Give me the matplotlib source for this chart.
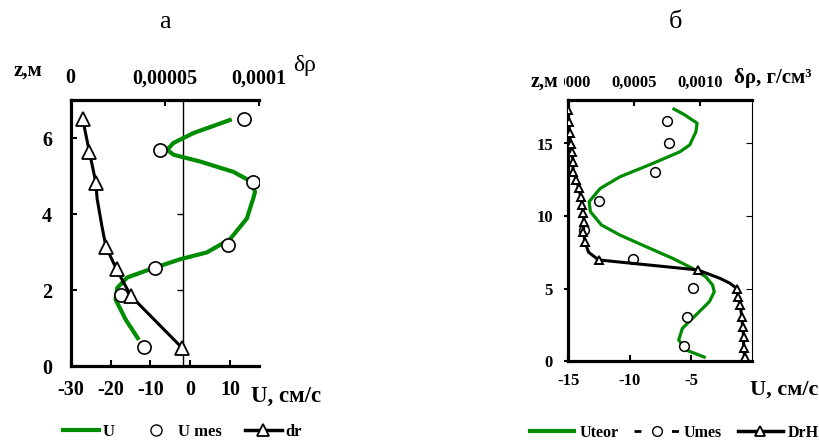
import matplotlib

matplotlib.use("Agg")
import matplotlib.pyplot as plt
from matplotlib.lines import Line2D

plt.rcParams["font.family"] = ["Liberation Serif", "DejaVu Serif"]
plt.rcParams["font.weight"] = "bold"
plt.rcParams["axes.unicode_minus"] = False

W, H = 820, 444
GREEN = "#008c00"

# ---- panel a (z, m) ----
a_u_line = [-12.9, -16.2, -18.75, -18.3, -15.8, -10.0, -2.5, 4.2, 10.0, 14.2, 15.8,
            16.25, 15.4, 10.8, 2.5, -4.2, -5.8, -4.2, 0.8, 10.4]
a_z_line = [0.69, 1.22, 1.75, 2.06, 2.33, 2.55, 2.81, 2.99, 3.34, 3.88, 4.41,
            4.58, 4.85, 5.11, 5.38, 5.56, 5.69, 5.87, 6.13, 6.49]
a_umes = [13.5, -7.7, 15.7, 9.4, -8.75, -17.5, -11.5]
a_zmes = [6.5, 5.69, 4.83, 3.19, 2.59, 1.88, 0.51]
a_dr = [0.0000064, 0.0000099, 0.0000134, 0.000014, 0.0000165, 0.0000187,
        0.0000244, 0.000032, 0.0000593]
a_dr_z = [6.49, 5.64, 4.82, 4.41, 3.7, 3.14, 2.54, 1.84, 0.47]
a_dr_marks = [0, 1, 2, 5, 6, 7, 8]

# ---- panel б ----
b_u_line = [-3.8, -5.4, -6.0, -5.7, -4.6, -3.5, -3.1, -3.24, -3.8, -4.87, -6.5, -8.65,
            -10.8, -12.3, -13.2, -13.3, -12.4, -10.8, -8.1, -5.9, -5.1, -4.6, -4.5,
            -5.5, -6.5]
b_z_line = [0.23, 0.76, 1.45, 2.25, 3.17, 4.09, 4.78, 5.24, 5.81, 6.39, 7.08, 7.88,
            8.69, 9.38, 10.3, 10.99, 11.9, 12.7, 13.63, 14.43, 14.9, 15.8, 16.4,
            16.97, 17.43]
b_umes = [-6.95, -6.8, -7.9, -12.5, -13.7, -9.73, -4.8, -5.3, -5.6]
b_zmes = [16.55, 15.0, 13.0, 11.03, 9.03, 7.03, 5.06, 3.06, 1.06]
b_drh = [0.0, 0.000003, 0.00001, 0.000018, 0.000028, 0.000036, 0.000036, 0.000062,
         0.00008, 0.000095, 0.000105, 0.000112, 0.00012, 0.000115, 0.000128, 0.000154,
         0.000231, 0.000985, 0.001154, 0.00123, 0.001282, 0.00129, 0.001308, 0.00132,
         0.001326, 0.001334, 0.001334, 0.001342]
b_drh_z = [17.3, 16.5, 15.7, 15.0, 14.4, 13.7, 13.05, 12.5, 11.9, 11.3, 10.76, 10.2,
           9.6, 8.9, 8.2, 7.5, 6.97, 6.28, 5.7, 5.36, 5.0, 4.43, 3.86, 3.06, 2.37,
           1.68, 0.88, 0.26]
b_drh_marks = [i for i in range(len(b_drh)) if i not in (15, 18, 19)]


def fx(px):
    return px / W


def fy(py):
    return 1 - py / H


fig = plt.figure(figsize=(W / 100, H / 100), dpi=100)

# ---------------- panel a ----------------
axa = fig.add_axes([fx(70.7), fy(366), (259 - 70.7) / W, (366 - 100) / H])
axa.plot(a_u_line, a_z_line, color=GREEN, lw=3, solid_capstyle="butt",
         solid_joinstyle="round", zorder=2)
axa.plot(a_umes, a_zmes, "o", ms=9.5, mfc="white", mec="black", mew=1.2, zorder=4)
axa.set_xlim(-30, 17.25)
axa.set_ylim(0, 7)
axa.set_xticks([-30, -20, -10, 0, 10])
axa.set_yticks([0, 2, 4, 6])
for side in ("top", "right"):
    axa.spines[side].set_visible(False)
for side in ("left", "bottom"):
    axa.spines[side].set_linewidth(2.3)
axa.tick_params(axis="x", direction="in", length=4, width=1.5, labelsize=14.5, pad=10)
axa.tick_params(axis="y", direction="in", length=4, width=1.5, labelsize=14.5, pad=13.5)

vline = axa.secondary_yaxis((-1.7 + 30) / 47.25)
vline.set_yticks([2, 4])
vline.tick_params(direction="in", length=4, width=1, labelright=False, labelleft=False)
for s in vline.spines.values():
    s.set_linewidth(1)

ta = axa.twiny()
ta.plot(a_dr, a_dr_z, color="black", lw=2.2, marker="^", markevery=a_dr_marks, ms=9.5,
        mfc="white", mec="black", mew=1.3, solid_joinstyle="round")
ta.set_xlim(0, 0.0001)
ta.set_xticks([0, 0.00005, 0.0001])
ta.set_xticklabels(["0", "0,00005", "0,0001"])
for side in ("left", "right", "bottom"):
    ta.spines[side].set_visible(False)
ta.spines["top"].set_linewidth(2.3)
ta.tick_params(axis="x", direction="in", length=4, width=1.5, labelsize=14.5, pad=8.5)

fig.text(fx(165), fy(22), "а", ha="center", va="center", fontsize=19, fontweight="normal")
fig.text(fx(28), fy(71), "z,м", ha="center", va="center", fontsize=15)
fig.text(fx(293), fy(66), "δρ", ha="left", va="center", fontsize=17, fontweight="normal")
fig.text(fx(251), fy(396), "U, см/с", ha="left", va="center", fontsize=16.5)

leg_a = [
    Line2D([], [], color=GREEN, lw=3),
    Line2D([], [], ls="none", marker="o", ms=8, mfc="white", mec="black", mew=1),
    Line2D([], [], color="black", lw=2.5, marker="^", ms=8, mfc="white", mec="black", mew=1.3),
]
fig.legend(leg_a, ["U", "U mes", "dr"], loc="center", bbox_to_anchor=(fx(182), fy(432)),
           ncol=3, frameon=False, prop={"size": 12, "weight": "bold"}, handlelength=2.2,
           handletextpad=0.2, columnspacing=1.4)

# ---------------- panel б ----------------
axb = fig.add_axes([fx(568.3), fy(361), (752.3 - 568.3) / W, (361 - 100) / H])
axb.plot(b_u_line, b_z_line, color=GREEN, lw=2.3, solid_capstyle="butt",
         solid_joinstyle="round", zorder=2)
axb.plot(b_umes, b_zmes, "o", ms=7, mfc="white", mec="black", mew=1.1, zorder=4)
axb.set_xlim(-15, 0)
axb.set_ylim(0, 18)
axb.set_xticks([-15, -10, -5])
axb.set_yticks([0, 5, 10, 15])
axb.spines["top"].set_visible(False)
axb.spines["right"].set_visible(False)
for side in ("left", "bottom"):
    axb.spines[side].set_linewidth(2.3)
axb.tick_params(axis="x", direction="in", length=4, width=1.5, labelsize=12, pad=8.5)
axb.tick_params(axis="y", direction="out", length=3, width=1.5, labelsize=12, pad=8)

rb = axb.secondary_yaxis("right")
rb.set_yticks([5, 10, 15])
rb.tick_params(direction="in", length=4, width=0.8, labelright=False)
for s in rb.spines.values():
    s.set_linewidth(0.8)

tb = axb.twiny()
tb.plot(b_drh, b_drh_z, color="black", lw=2.2, marker="^", markevery=b_drh_marks, ms=6,
        mfc="white", mec="black", mew=1.4, solid_joinstyle="round")
tb.set_xlim(0, 0.0014)
tb.set_xticks([0, 0.0005, 0.0010])
tb.set_xticklabels(["0,0000", "0,0005", "0,0010"])
for side in ("left", "right", "bottom"):
    tb.spines[side].set_visible(False)
tb.spines["top"].set_linewidth(2.3)
tb.tick_params(axis="x", direction="in", length=4, width=1.5, labelsize=12, pad=6.5)

fig.text(fx(676), fy(22), "б", ha="center", va="center", fontsize=19, fontweight="normal")
fig.text(fx(558), fy(82), "z,м", ha="right", va="center", fontsize=14.5,
         bbox={"facecolor": "white", "edgecolor": "none", "pad": 4})
fig.text(fx(734), fy(78), "δρ, г/см³", ha="left", va="center", fontsize=15)
fig.text(fx(750), fy(390), "U, см/с", ha="left", va="center", fontsize=16)

leg_b = [
    Line2D([], [], color=GREEN, lw=3),
    Line2D([], [], color="black", lw=2, ls=(0, (2.5, 11)), marker="o", ms=7,
           mfc="white", mec="black", mew=1),
    Line2D([], [], color="black", lw=2.5, marker="^", ms=7, mfc="white", mec="black", mew=1.3),
]
fig.legend(leg_b, ["Uteor", "Umes", "DrH"], loc="center", bbox_to_anchor=(fx(674), fy(433)),
           ncol=3, frameon=False, prop={"size": 11.5, "weight": "bold"}, handlelength=2.8,
           handletextpad=0.3, columnspacing=1.0)

fig.savefig("out.png", dpi=100)
